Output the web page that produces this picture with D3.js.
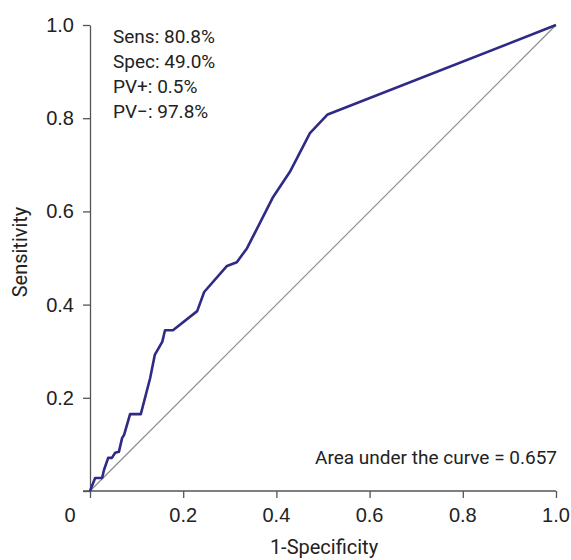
<!DOCTYPE html>
<html>
<head>
  <meta charset="utf-8">
  <script src="https://d3js.org/d3.v7.min.js"></script>
  <style>
    body { margin: 0; background: #fff; }
    svg { display: block; }
    .tick-label { font-family: "Liberation Sans", Arial, sans-serif; font-size: 20px; fill: #222; }
    .note { font-family: Roboto, sans-serif; font-size: 19px; fill: #222; }
    .title { font-family: Roboto, sans-serif; font-size: 20px; fill: #222; }
  </style>
</head>
<body>
  <svg width="571" height="560"></svg>

  <script>
    // ROC curve points (1-specificity, sensitivity)
    const fpr = [0, 0.011, 0.026, 0.030, 0.039, 0.047, 0.054, 0.062, 0.069, 0.073,
      0.086, 0.109, 0.129, 0.139, 0.155, 0.161, 0.178, 0.230, 0.245, 0.294,
      0.315, 0.337, 0.393, 0.429, 0.472, 0.510, 1];
    const tpr = [0, 0.028, 0.028, 0.045, 0.071, 0.071, 0.082, 0.084, 0.114, 0.120,
      0.165, 0.165, 0.242, 0.292, 0.320, 0.345, 0.345, 0.386, 0.427, 0.483,
      0.491, 0.521, 0.631, 0.685, 0.768, 0.808, 1];

    const xTicks = [0.2, 0.4, 0.6, 0.8, 1.0];
    const yTicks = [0.2, 0.4, 0.6, 0.8, 1.0];
    const notes = ["Sens: 80.8%", "Spec: 49.0%", "PV+: 0.5%", "PV\u2212: 97.8%"];
    const aucText = "Area under the curve = 0.657";

    const svg = d3.select("svg");
    const x = d3.scaleLinear().domain([0, 1]).range([90, 556]);
    const y = d3.scaleLinear().domain([0, 1]).range([491, 25]);

    // diagonal reference line
    svg.append("line")
      .attr("x1", x(0)).attr("y1", y(0))
      .attr("x2", x(1)).attr("y2", y(1))
      .attr("stroke", "#858585")
      .attr("stroke-width", 1.1);

    // axes
    const xAxis = svg.append("g")
      .attr("transform", `translate(0,${y(0)})`)
      .call(d3.axisBottom(x).tickValues([0].concat(xTicks)).tickSize(7).tickSizeOuter(0).tickFormat(""));
    const yAxis = svg.append("g")
      .attr("transform", `translate(${x(0)},0)`)
      .call(d3.axisLeft(y).tickValues([0].concat(yTicks)).tickSize(7).tickSizeOuter(0).tickFormat(""));

    [xAxis, yAxis].forEach(g => {
      g.select(".domain").attr("stroke", "#555").attr("stroke-width", 1.3);
      g.selectAll(".tick line").attr("stroke", "#555").attr("stroke-width", 1.3);
    });
    // x axis line runs a bit left of the origin
    xAxis.select(".domain").attr("d", `M${x(0) - 7},0H${x(1)}`);

    svg.selectAll(".xlab")
      .data(xTicks)
      .enter().append("text")
      .attr("class", "tick-label")
      .attr("x", d => x(d))
      .attr("y", 522)
      .attr("text-anchor", "middle")
      .text(d => d3.format(".1f")(d));

    svg.append("text")
      .attr("class", "tick-label")
      .attr("x", 70)
      .attr("y", 522)
      .attr("text-anchor", "middle")
      .text("0");

    svg.selectAll(".ylab")
      .data(yTicks)
      .enter().append("text")
      .attr("class", "tick-label")
      .attr("x", 74)
      .attr("y", d => y(d) + 7)
      .attr("text-anchor", "end")
      .text(d => d3.format(".1f")(d));

    // ROC curve
    const line = d3.line()
      .x((d, i) => x(fpr[i]))
      .y((d, i) => y(tpr[i]));

    svg.append("path")
      .datum(fpr)
      .attr("d", line)
      .attr("fill", "none")
      .attr("stroke", "#2e2a86")
      .attr("stroke-width", 2.6)
      .attr("stroke-linejoin", "round");

    // annotations
    svg.selectAll(".note-line")
      .data(notes)
      .enter().append("text")
      .attr("class", "note")
      .attr("x", 113)
      .attr("y", (d, i) => 43 + i * 25)
      .text(d => d);

    svg.append("text")
      .attr("class", "note")
      .attr("x", 557)
      .attr("y", 464)
      .attr("text-anchor", "end")
      .text(aucText);

    // axis titles
    svg.append("text")
      .attr("class", "title")
      .attr("x", 324)
      .attr("y", 554)
      .attr("text-anchor", "middle")
      .text("1-Specificity");

    svg.append("text")
      .attr("class", "title")
      .attr("transform", "translate(27,252) rotate(-90)")
      .attr("text-anchor", "middle")
      .text("Sensitivity");
  </script>
</body>
</html>
